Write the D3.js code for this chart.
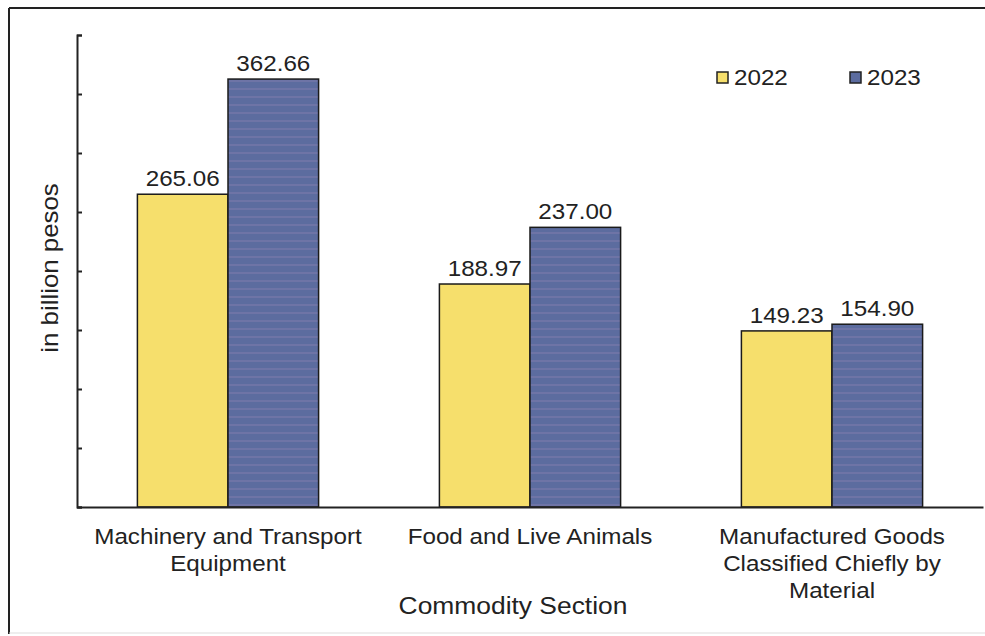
<!DOCTYPE html>
<html>
<head>
<meta charset="utf-8">
<script src="https://cdn.jsdelivr.net/npm/d3@7"></script>
<style>
  html, body { margin: 0; padding: 0; background: #fff; }
  svg { display: block; font-family: "Liberation Sans", Arial, sans-serif; }
</style>
</head>
<body>
<svg id="chart" width="985" height="636"></svg>
<script>
const categories = [
  ["Machinery and Transport", "Equipment"],
  ["Food and Live Animals"],
  ["Manufactured Goods", "Classified Chiefly by", "Material"]
];
const seriesNames = ["2022", "2023"];
const values2022 = [265.06, 188.97, 149.23];
const values2023 = [362.66, 237.00, 154.90];
const yTicks = [0, 50, 100, 150, 200, 250, 300, 350, 400];

const svg = d3.select("#chart");
const W = 985, H = 636;
const m = { left: 77, right: 2, top: 35, bottom: 129 };
const innerW = W - m.left - m.right, innerH = H - m.top - m.bottom;
const SX = 1.1; // horizontal stretch of the scanned text

function label(parent, x, y, str, size, anchor, rot) {
  const gg = parent.append("g")
    .attr("transform", `translate(${x},${y})` + (rot ? ` rotate(${rot})` : "") + ` scale(${SX},1)`);
  return gg.append("text").attr("text-anchor", anchor || "middle").attr("font-size", size)
    .attr("fill", "#222").text(str);
}

// frame
svg.append("line").attr("x1", 9).attr("x2", 9).attr("y1", 8).attr("y2", 634)
  .attr("stroke", "#222").attr("stroke-width", 2);
svg.append("line").attr("x1", 9).attr("x2", W).attr("y1", 8).attr("y2", 8)
  .attr("stroke", "#222").attr("stroke-width", 2);
svg.append("line").attr("x1", 9).attr("x2", W).attr("y1", 633).attr("y2", 633)
  .attr("stroke", "#ddd").attr("stroke-width", 1);

const defs = svg.append("defs");
const pat = defs.append("pattern").attr("id", "stripes").attr("patternUnits", "userSpaceOnUse")
  .attr("width", 8).attr("height", 8);
pat.append("rect").attr("width", 8).attr("height", 8).attr("fill", "#5c6c9f");
pat.append("rect").attr("y", 5).attr("width", 8).attr("height", 2).attr("fill", "#6e74a6");

const g = svg.append("g").attr("transform", `translate(${m.left},${m.top})`);

const x0 = d3.scaleBand().domain(d3.range(categories.length)).range([0, innerW]).paddingInner(0.4).paddingOuter(0.2);
const x1 = d3.scaleBand().domain(seriesNames).range([0, x0.bandwidth()]);
const y = d3.scaleLinear().domain([0, 400]).range([innerH, 0]);

const fills = { "2022": "#f6df6c", "2023": "url(#stripes)" };
const legendFills = { "2022": "#f6df6c", "2023": "#5c6c9f" };

const data = categories.map((c, i) => ({ i, vals: [
  { s: "2022", v: values2022[i] }, { s: "2023", v: values2023[i] }] }));

const groups = g.selectAll(".grp").data(data).enter().append("g")
  .attr("transform", d => `translate(${x0(d.i)},0)`);

groups.selectAll("rect").data(d => d.vals).enter().append("rect")
  .attr("x", d => x1(d.s)).attr("width", x1.bandwidth())
  .attr("y", d => y(d.v)).attr("height", d => innerH - y(d.v))
  .attr("fill", d => fills[d.s]).attr("stroke", "#1a1a1a").attr("stroke-width", 1.5);

groups.each(function (d) {
  const gg = d3.select(this);
  d.vals.forEach(p => label(gg, x1(p.s) + x1.bandwidth() / 2, y(p.v) - 8, p.v.toFixed(2), 22));
});

// y axis
const yAxis = g.append("g").call(d3.axisLeft(y).tickValues(yTicks).tickSize(-5).tickFormat(""));
yAxis.selectAll("path, line").attr("stroke", "#222").attr("stroke-width", 2);

// x axis
const xAxis = g.append("g").attr("transform", `translate(0,${innerH})`)
  .call(d3.axisBottom(x0).tickSize(0).tickFormat(""));
xAxis.select("path").attr("stroke", "#222").attr("stroke-width", 2);

// category labels
categories.forEach((lines, i) => {
  lines.forEach((ln, k) => label(g, x0(i) + x0.bandwidth() / 2, innerH + 37 + k * 27, ln, 22));
});

// axis titles
label(svg, 513, 614, "Commodity Section", 24);
label(svg, 58, 268, "in billion pesos", 23.5, "middle", -90);

// legend
const legend = svg.append("g").attr("transform", "translate(717,72)");
seriesNames.forEach((s, k) => {
  const lg = legend.append("g").attr("transform", `translate(${k * 133},0)`);
  lg.append("rect").attr("width", 11).attr("height", 11).attr("fill", legendFills[s])
    .attr("stroke", "#222").attr("stroke-width", 1.5);
  label(lg, 17, 13, s, 22, "start");
});
</script>
</body>
</html>
